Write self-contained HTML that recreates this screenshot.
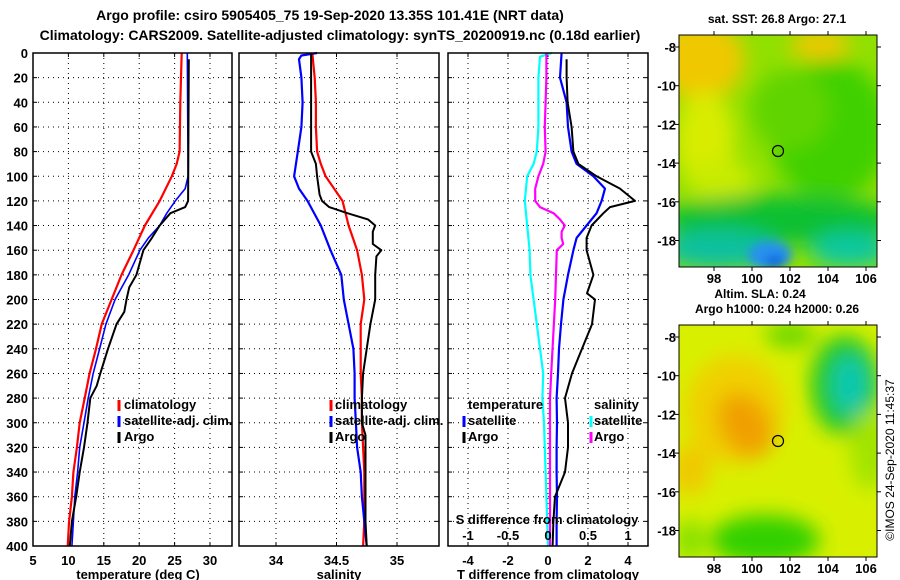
<!DOCTYPE html>
<html><head><meta charset="utf-8">
<style>
html,body{margin:0;padding:0;background:#fff;}
svg{display:block;font-family:"Liberation Sans",Arial,sans-serif;font-weight:bold;}
</style></head>
<body>
<svg id="chart" width="900" height="580" viewBox="0 0 900 580">
<defs>
<filter id="blur8" x="-50%" y="-50%" width="200%" height="200%"><feGaussianBlur stdDeviation="10"/></filter>
<filter id="blur4" x="-50%" y="-50%" width="200%" height="200%"><feGaussianBlur stdDeviation="5"/></filter>
<clipPath id="clipMap1"><rect x="679" y="35" width="198" height="232"/></clipPath>
<clipPath id="clipMap2"><rect x="679" y="325" width="198" height="232"/></clipPath>
</defs>
<text x="330" y="20" text-anchor="middle" font-size="14">Argo profile: csiro 5905405_75 19-Sep-2020 13.35S 101.41E (NRT data)</text>
<text x="340" y="40" text-anchor="middle" font-size="14">Climatology: CARS2009. Satellite-adjusted climatology: synTS_20200919.nc (0.18d earlier)</text>

<!-- Map 1 -->
<g>
<text x="777" y="23" text-anchor="middle" font-size="12">sat. SST: 26.8 Argo: 27.1</text>
<g clip-path="url(#clipMap1)">
<rect x="679" y="35" width="198" height="232" fill="#90e000"/>
<g filter="url(#blur8)">
<ellipse cx="700" cy="60" rx="45" ry="40" fill="#f0c800"/>
<ellipse cx="820" cy="45" rx="30" ry="15" fill="#f0c800"/>
<ellipse cx="705" cy="140" rx="30" ry="50" fill="#d8ec00"/>
<ellipse cx="720" cy="180" rx="35" ry="20" fill="#c8ec00"/>
<ellipse cx="830" cy="130" rx="60" ry="70" fill="#40d000"/>
<ellipse cx="790" cy="110" rx="40" ry="40" fill="#60d400"/>
<ellipse cx="780" cy="220" rx="120" ry="25" fill="#10c030"/>
<ellipse cx="720" cy="250" rx="60" ry="20" fill="#10c0a0"/>
<ellipse cx="850" cy="250" rx="40" ry="18" fill="#10c8a0"/>
</g>
<g filter="url(#blur4)">
<ellipse cx="770" cy="255" rx="22" ry="14" fill="#2890f0"/>
<ellipse cx="775" cy="262" rx="10" ry="6" fill="#1060e0"/>
</g>
</g>
<rect x="679" y="35" width="198" height="232" fill="none" stroke="#000" stroke-width="1"/>
<circle cx="778" cy="151" r="5.5" fill="none" stroke="#000" stroke-width="1.2"/>
<g id="map1ticks"></g>
<text x="760" y="298" text-anchor="middle" font-size="12">Altim. SLA: 0.24</text>
<text x="777" y="313" text-anchor="middle" font-size="12">Argo h1000: 0.24 h2000: 0.26</text>
</g>

<!-- Map 2 -->
<g>
<g clip-path="url(#clipMap2)">
<rect x="679" y="325" width="198" height="232" fill="#d8f000"/>
<g filter="url(#blur8)">
<ellipse cx="735" cy="410" rx="50" ry="55" fill="#f0d000"/>
<ellipse cx="745" cy="425" rx="25" ry="35" fill="#f0a000" transform="rotate(-30 745 425)"/>
<ellipse cx="690" cy="470" rx="20" ry="25" fill="#f0c800"/>
<ellipse cx="845" cy="385" rx="35" ry="50" fill="#20c820"/>
<ellipse cx="850" cy="385" rx="18" ry="30" fill="#10c8b0"/>
<ellipse cx="765" cy="540" rx="55" ry="25" fill="#30d000"/>
<ellipse cx="790" cy="335" rx="25" ry="12" fill="#60d400"/>
<ellipse cx="870" cy="450" rx="20" ry="40" fill="#a0e400"/>
<ellipse cx="690" cy="540" rx="15" ry="20" fill="#80e000"/>
</g>
</g>
<rect x="679" y="325" width="198" height="232" fill="none" stroke="#000" stroke-width="1"/>
<circle cx="778" cy="441" r="5.5" fill="none" stroke="#000" stroke-width="1.2"/>
<g id="map2ticks"></g>
<text x="894" y="460" text-anchor="middle" font-size="12" font-weight="normal" transform="rotate(-90 894 460)">©IMOS 24-Sep-2020 11:45:37</text>
</g>

<g id="panels"></g>
</svg>
<script>
// ---- data (depth in m) ----
const tempClimDepth = [0,40,80,90,100,120,140,160,180,200,220,240,260,280,300,320,340,360,380,400];
const tempClimValue = [26.0,25.8,25.7,25.3,24.6,22.9,20.8,19.2,17.5,16.1,14.7,13.9,13.0,12.3,11.6,11.2,10.7,10.5,10.1,9.9];
const tempSatDepth = [0,100,110,120,130,140,150,160,180,200,220,240,260,280,300,320,340,360,380,400];
const tempSatValue = [26.8,26.9,26.5,25.1,23.9,22.9,21.3,20.1,18.5,16.6,15.3,14.4,13.5,12.8,12.2,11.6,11.3,10.9,10.7,10.5];
const tempArgoDepth = [5,120,125,130,140,150,160,180,190,200,210,220,240,260,270,280,300,320,340,360,380,400];
const tempArgoValue = [27.0,26.9,26.5,24.4,22.9,21.8,20.6,19.6,18.6,18.2,17.9,16.8,15.6,14.5,14.0,13.1,12.7,12.2,11.6,11.1,10.5,10.2];

const salClimDepth = [0,20,40,60,80,90,100,110,120,140,160,180,200,220,240,260,280,300,320,340,360,380,400];
const salClimValue = [34.30,34.32,34.33,34.33,34.34,34.37,34.41,34.48,34.55,34.60,34.67,34.71,34.73,34.70,34.70,34.70,34.71,34.71,34.72,34.73,34.73,34.73,34.72];
const salSatDepth = [0,2,5,20,40,60,80,100,110,120,140,160,180,200,220,240,260,280,300,320,340,360,380,400];
const salSatValue = [34.34,34.21,34.19,34.21,34.22,34.21,34.18,34.15,34.19,34.26,34.37,34.45,34.54,34.56,34.60,34.64,34.65,34.65,34.66,34.67,34.70,34.71,34.73,34.75];
const salArgoDepth = [0,20,40,60,80,90,100,115,120,125,130,135,140,145,155,160,165,180,200,220,240,260,280,300,310,340,360,380,400];
const salArgoValue = [34.29,34.29,34.29,34.29,34.29,34.33,34.34,34.36,34.38,34.44,34.59,34.76,34.82,34.80,34.80,34.87,34.83,34.82,34.82,34.78,34.75,34.72,34.71,34.71,34.74,34.74,34.74,34.74,34.75];

const dTSatDepth = [0,20,40,60,80,90,100,110,120,130,140,150,160,180,200,220,240,260,280,300,320,340,360,380,400];
const dTSatValue = [0.68,0.6,0.93,1.0,1.18,1.43,2.27,2.85,2.68,2.43,1.93,1.43,1.27,1.0,0.77,0.65,0.55,0.5,0.43,0.45,0.43,0.43,0.45,0.43,0.43];
const dTArgoDepth = [5,20,40,60,80,90,100,110,120,125,130,140,150,160,170,180,195,200,220,240,260,280,300,320,340,360,380,400];
const dTArgoValue = [0.93,0.93,0.98,1.18,1.27,1.52,2.43,3.6,4.35,3.1,2.77,2.18,1.93,1.93,2.1,2.27,1.95,2.35,2.2,1.7,1.2,0.85,1.0,1.0,0.85,0.35,0.27,0.23];
const dSSatDepth = [0,3,20,40,60,80,90,100,120,140,160,180,200,260,280,300,320,340,360,380,400];
const dSSatValue = [0.05,-0.1,-0.12,-0.12,-0.12,-0.14,-0.18,-0.26,-0.29,-0.26,-0.23,-0.22,-0.18,-0.06,-0.07,-0.05,-0.04,-0.03,-0.02,-0.01,0.0];
const dSArgoDepth = [0,20,40,60,80,90,100,110,120,125,130,135,140,145,150,155,160,180,200,260,280,300,320,340,360,380,400];
const dSArgoValue = [-0.02,-0.02,-0.03,-0.04,-0.03,-0.06,-0.12,-0.16,-0.16,-0.1,0.07,0.15,0.21,0.17,0.17,0.19,0.11,0.10,0.09,0.04,0.025,0.025,0.025,0.025,0.025,0.025,0.025];

const depthTicks = [0,20,40,60,80,100,120,140,160,180,200,220,240,260,280,300,320,340,360,380,400];
const tempTicks = [5,10,15,20,25,30];
const salTicks = [34,34.5,35];
const dTTicks = [-4,-2,0,2,4];
const dSTicks = [-1,-0.5,0,0.5,1];
const lonTicks = [98,100,102,104,106];
const latTicks = [-8,-10,-12,-14,-16,-18];

// ---- layout ----
const NS = 'http://www.w3.org/2000/svg';
const Y0 = 53, Y1 = 546;
function yDepth(d){ return Y0 + (d/400)*(Y1-Y0); }
function mk(tag, attrs, parent){ const e=document.createElementNS(NS,tag); for(const k in attrs) e.setAttribute(k,attrs[k]); parent.appendChild(e); return e; }
const root = document.getElementById('panels');

function panel(name, x0, x1, vmin, vmax){
  const g = mk('g',{},root);
  
  
  const sx = v => x0 + (v - vmin)/(vmax - vmin)*(x1 - x0);
  return {g, sx, x0, x1};
}
function grid(p, xticks, sx){
  depthTicks.forEach(d=>{
    if(d===0||d===400) return;
    const l = mk('line',{x1:p.x0,x2:p.x1,y1:yDepth(d),y2:yDepth(d),stroke:'#000','stroke-width':1,'stroke-dasharray':'1,4'},p.g);
    
    
    mk('line',{x1:p.x0,x2:p.x0+4,y1:yDepth(d),y2:yDepth(d),stroke:'#000'},p.g);
    mk('line',{x1:p.x1-4,x2:p.x1,y1:yDepth(d),y2:yDepth(d),stroke:'#000'},p.g);
  });
  xticks.forEach(v=>{
    const x = sx(v);
    const l = mk('line',{x1:x,x2:x,y1:Y0,y2:Y1,stroke:'#000','stroke-width':1,'stroke-dasharray':'1,4'},p.g);
    
    
    mk('line',{x1:x,x2:x,y1:Y0,y2:Y0+4,stroke:'#000'},p.g);
    mk('line',{x1:x,x2:x,y1:Y1-4,y2:Y1,stroke:'#000'},p.g);
  });
}
function frame(p){
  const r = mk('rect',{x:p.x0,y:Y0,width:p.x1-p.x0,height:Y1-Y0,fill:'none',stroke:'#000','stroke-width':1.5},p.g);
  
  
}
function series(p, sx, depths, vals, color, w, name){
  const pts = depths.map((d,i)=> sx(vals[i]).toFixed(1)+','+yDepth(d).toFixed(1)).join(' ');
  const pl = mk('polyline',{points:pts,fill:'none',stroke:color,'stroke-width':w,'stroke-linejoin':'round'},p.g);
  
  
}
function xLabels(p, ticks, sx, y, fmt){
  ticks.forEach(v=>{
    const t = mk('text',{x:sx(v),y:y,'text-anchor':'middle','font-size':13},p.g);
    t.textContent = fmt ? fmt(v) : String(v);
    
    
  });
}
function txt(p, x, y, s, size, name, anchor){
  const t = mk('text',{x:x,y:y,'font-size':size,'text-anchor':anchor||'start'},p.g);
  t.textContent = s;
  
  
  return t;
}
function legendMark(p, x, y, color, name){
  const l = mk('line',{x1:x,x2:x,y1:y-11,y2:y,stroke:color,'stroke-width':3},p.g);
  
  
}

// Panel 1: temperature
const p1 = panel('temperature-panel', 33, 232, 5, 5 + 199/7.08);
grid(p1, tempTicks, p1.sx);
series(p1, p1.sx, tempClimDepth, tempClimValue, '#ff0000', 2.2, 'temp-climatology-line');
series(p1, p1.sx, tempSatDepth, tempSatValue, '#0000ff', 1.6, 'temp-satellite-line');
series(p1, p1.sx, tempArgoDepth, tempArgoValue, '#000000', 2, 'temp-argo-line');
frame(p1);
depthTicks.forEach(d=>{
  const t = mk('text',{x:28,y:yDepth(d)+5,'text-anchor':'end','font-size':13},p1.g);
  t.textContent = d;
  
  
});
xLabels(p1, tempTicks, p1.sx, 565);
txt(p1, 138, 579, 'temperature (deg C)', 13, 'x-axis-title-temperature', 'middle');
legendMark(p1, 119, 411, '#ff0000', 'legend-climatology-mark');
txt(p1, 124, 409, 'climatology', 13, 'legend-climatology');
legendMark(p1, 119, 427, '#0000ff', 'legend-satellite-mark');
txt(p1, 124, 425, 'satellite-adj. clim.', 13, 'legend-satellite');
legendMark(p1, 119, 443, '#000000', 'legend-argo-mark');
txt(p1, 124, 441, 'Argo', 13, 'legend-argo');

// Panel 2: salinity
const p2 = panel('salinity-panel', 239, 439, 34 - 37/121, 34 + 163/121);
grid(p2, salTicks, p2.sx);
series(p2, p2.sx, salClimDepth, salClimValue, '#ff0000', 2.2, 'sal-climatology-line');
series(p2, p2.sx, salSatDepth, salSatValue, '#0000ff', 2.2, 'sal-satellite-line');
series(p2, p2.sx, salArgoDepth, salArgoValue, '#000000', 2, 'sal-argo-line');
frame(p2);
xLabels(p2, salTicks, p2.sx, 565);
txt(p2, 339, 579, 'salinity', 13, 'x-axis-title-salinity', 'middle');
legendMark(p2, 331, 411, '#ff0000', 'legend-climatology-mark');
txt(p2, 335, 409, 'climatology', 13, 'legend-climatology');
legendMark(p2, 331, 427, '#0000ff', 'legend-satellite-mark');
txt(p2, 335, 425, 'satellite-adj. clim.', 13, 'legend-satellite');
legendMark(p2, 331, 443, '#000000', 'legend-argo-mark');
txt(p2, 335, 441, 'Argo', 13, 'legend-argo');

// Panel 3: differences
const p3 = panel('difference-panel', 448, 648, -5, 5);
const sxS = v => 548 + v*80;
grid(p3, dTTicks, p3.sx);
series(p3, sxS, dSSatDepth, dSSatValue, '#00ffff', 2.2, 'sdiff-satellite-line');
series(p3, sxS, dSArgoDepth, dSArgoValue, '#ff00ff', 2.2, 'sdiff-argo-line');
series(p3, p3.sx, dTSatDepth, dTSatValue, '#0000ff', 2.2, 'tdiff-satellite-line');
series(p3, p3.sx, dTArgoDepth, dTArgoValue, '#000000', 2, 'tdiff-argo-line');
frame(p3);
xLabels(p3, dTTicks, p3.sx, 565);
txt(p3, 548, 579, 'T difference from climatology', 13, 'x-axis-title-tdiff', 'middle');
txt(p3, 547, 524, 'S difference from climatology', 13, 'inner-axis-title-sdiff', 'middle');
xLabels(p3, dSTicks, sxS, 540);
txt(p3, 468, 409, 'temperature', 13, 'legend-temperature-header');
txt(p3, 594, 409, 'salinity', 13, 'legend-salinity-header');
legendMark(p3, 464, 427, '#0000ff', 'legend-t-satellite-mark');
txt(p3, 468, 425, 'satellite', 13, 'legend-t-satellite');
legendMark(p3, 464, 443, '#000000', 'legend-t-argo-mark');
txt(p3, 468, 441, 'Argo', 13, 'legend-t-argo');
legendMark(p3, 591, 427, '#00ffff', 'legend-s-satellite-mark');
txt(p3, 594, 425, 'satellite', 13, 'legend-s-satellite');
legendMark(p3, 591, 443, '#ff00ff', 'legend-s-argo-mark');
txt(p3, 594, 441, 'Argo', 13, 'legend-s-argo');

// Map ticks
function mapTicks(id, top, bottom, latYm8){
  const g = document.getElementById(id);
  const lonX = v => 714 + (v-98)*19;
  const latY = v => latYm8 + (-8 - v)*19.35;
  lonTicks.forEach(v=>{
    const x = lonX(v);
    mk('line',{x1:x,x2:x,y1:top-4,y2:top,stroke:'#000'},g);
    mk('line',{x1:x,x2:x,y1:bottom,y2:bottom+4,stroke:'#000'},g);
    const t = mk('text',{x:x,y:bottom+16,'text-anchor':'middle','font-size':13},g);
    t.textContent = v;
    
    
  });
  latTicks.forEach(v=>{
    const y = latY(v);
    mk('line',{x1:675,x2:679,y1:y,y2:y,stroke:'#000'},g);
    mk('line',{x1:877,x2:881,y1:y,y2:y,stroke:'#000'},g);
    const t = mk('text',{x:676,y:y+5,'text-anchor':'end','font-size':13},g);
    t.textContent = v;
    
    
  });
}
mapTicks('map1ticks', 35, 267, 47);
mapTicks('map2ticks', 325, 557, 337);
</script>
</body></html>
